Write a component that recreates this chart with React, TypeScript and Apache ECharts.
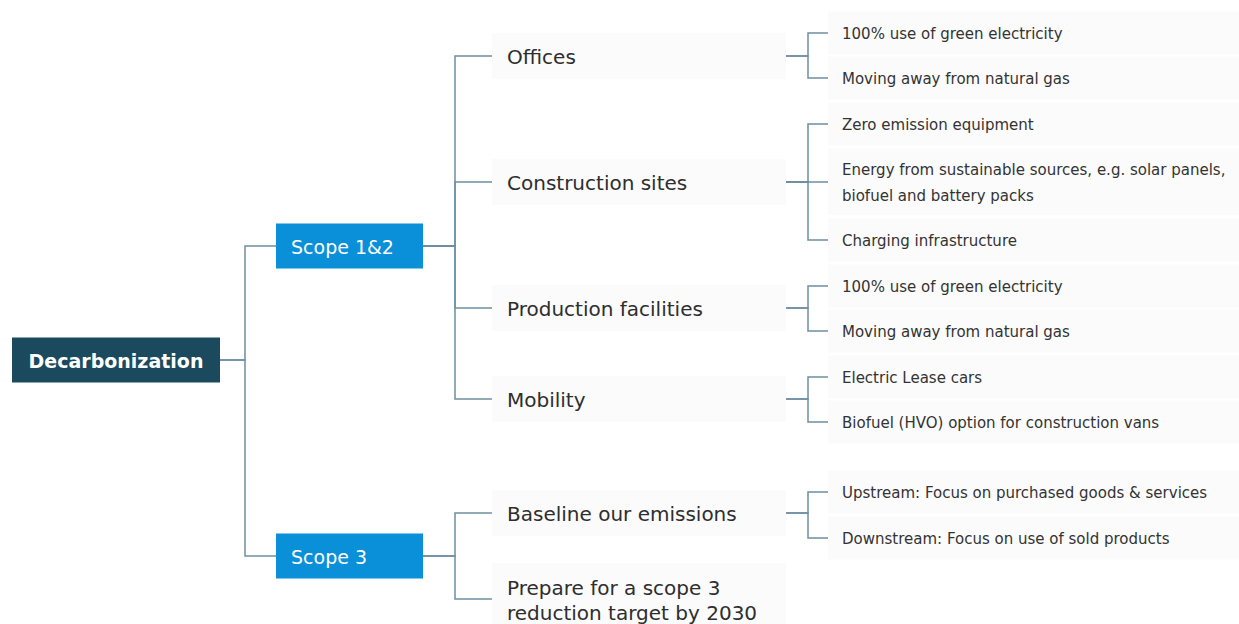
import React, { useEffect, useRef } from "react";
import * as echarts from "echarts";

// ---- data ----
const rootLabels = ["Decarbonization"];
const rootRows = [360];

const scopeLabels = ["Scope 1&2", "Scope 3"];
const scopeRows = [246, 556];

const areaLabels = [
  "Offices",
  "Construction sites",
  "Production facilities",
  "Mobility",
  "Baseline our emissions",
  "Prepare for a scope 3\nreduction target by 2030",
];
const areaParents = [0, 0, 0, 0, 1, 1];
const areaRows = [56, 182, 308, 399, 513, 599];

const actionLabels = [
  "100% use of green electricity",
  "Moving away from natural gas",
  "Zero emission equipment",
  "Energy from sustainable sources, e.g. solar panels,\nbiofuel and battery packs",
  "Charging infrastructure",
  "100% use of green electricity",
  "Moving away from natural gas",
  "Electric Lease cars",
  "Biofuel (HVO) option for construction vans",
  "Upstream: Focus on purchased goods & services",
  "Downstream: Focus on use of sold products",
];
const actionParents = [0, 0, 1, 1, 1, 2, 2, 3, 3, 4, 4];
const actionRows = [33, 78, 124, 182, 240, 286, 331, 377, 422, 492, 538];

// ---- styles ----
const FONT = "DejaVu Sans, Verdana, sans-serif";
const LEVELS = [
  { x: 12, w: 208, baseH: 45, extraH: 24, fill: "#1b4a5e", color: "#ffffff", size: 19, weight: "bold", align: "center", pad: 0, lh: 24 },
  { x: 276, w: 147, baseH: 45, extraH: 24, fill: "#0a8fd9", color: "#ffffff", size: 19, weight: "normal", align: "left", pad: 15, lh: 24 },
  { x: 492, w: 294, baseH: 46, extraH: 26, fill: "#fbfbfb", color: "#2e2e2e", size: 20, weight: "normal", align: "left", pad: 15, lh: 25 },
  { x: 828, w: 411, baseH: 43, extraH: 23, fill: "#fbfbfb", color: "#333333", size: 15, weight: "normal", align: "left", pad: 14, lh: 26 },
];
const JUNCTIONS = [245, 455, 808];
const EDGE_COLOR = "#6e8fa1";

type Node = { level: number; row: number; label: string; parentRow: number | null };

function buildNodes(): Node[] {
  const nodes: Node[] = [];
  rootLabels.forEach((l, i) => nodes.push({ level: 0, row: rootRows[i], label: l, parentRow: null }));
  scopeLabels.forEach((l, i) => nodes.push({ level: 1, row: scopeRows[i], label: l, parentRow: rootRows[0] }));
  areaLabels.forEach((l, i) => nodes.push({ level: 2, row: areaRows[i], label: l, parentRow: scopeRows[areaParents[i]] }));
  actionLabels.forEach((l, i) => nodes.push({ level: 3, row: actionRows[i], label: l, parentRow: areaRows[actionParents[i]] }));
  return nodes;
}

export default function App() {
  const ref = useRef<HTMLDivElement>(null);
  useEffect(() => {
    if (!ref.current) return;
    const chart = echarts.init(ref.current, undefined, { renderer: "svg" });
    const nodes = buildNodes();

    const edgeRender = (params: any, api: any) => {
      const n = nodes[params.dataIndex];
      if (n.parentRow === null) return { type: "group", children: [] };
      const p = LEVELS[n.level - 1];
      const c = LEVELS[n.level];
      const jx = JUNCTIONS[n.level - 1];
      const py = api.coord([0, api.value(2)])[1];
      const cy = api.coord([0, api.value(1)])[1];
      return {
        type: "polyline",
        shape: { points: [[p.x + p.w, py], [jx, py], [jx, cy], [c.x, cy]] },
        style: { stroke: EDGE_COLOR, lineWidth: 1.5, fill: "none" },
        silent: true,
      };
    };

    const nodeRender = (params: any, api: any) => {
      const n = nodes[params.dataIndex];
      const s = LEVELS[n.level];
      const cy = api.coord([0, api.value(1)])[1];
      const lines = n.label.split("\n").length;
      const h = s.baseH + (lines - 1) * s.extraH;
      const tx = s.align === "center" ? s.x + s.w / 2 : s.x + s.pad;
      return {
        type: "group",
        children: [
          {
            type: "rect",
            shape: { x: s.x, y: cy - h / 2, width: s.w, height: h },
            style: { fill: s.fill },
          },
          {
            type: "text",
            style: {
              text: n.label,
              x: tx,
              y: cy + 1,
              fill: s.color,
              fontSize: s.size,
              fontFamily: FONT,
              fontWeight: s.weight,
              align: s.align,
              verticalAlign: "middle",
              lineHeight: s.lh,
            },
          },
        ],
      };
    };

    const data = nodes.map((n) => [n.level, n.row, n.parentRow === null ? n.row : n.parentRow]);

    chart.setOption({
      animation: false,
      backgroundColor: "#ffffff",
      grid: { left: 0, right: 0, top: 0, bottom: 0 },
      xAxis: { type: "value", min: 0, max: 1, show: false },
      yAxis: { type: "value", min: 0, max: 624, inverse: true, show: false },
      series: [
        { type: "custom", renderItem: nodeRender, data, clip: false, z: 1 },
        { type: "custom", renderItem: edgeRender, data, clip: false, z: 2 },
      ],
    });
    return () => chart.dispose();
  }, []);
  return (
    <div
      ref={ref}
      style={{ position: "fixed", left: 0, top: 0, width: 1239, height: 624, background: "#fff" }}
    />
  );
}
